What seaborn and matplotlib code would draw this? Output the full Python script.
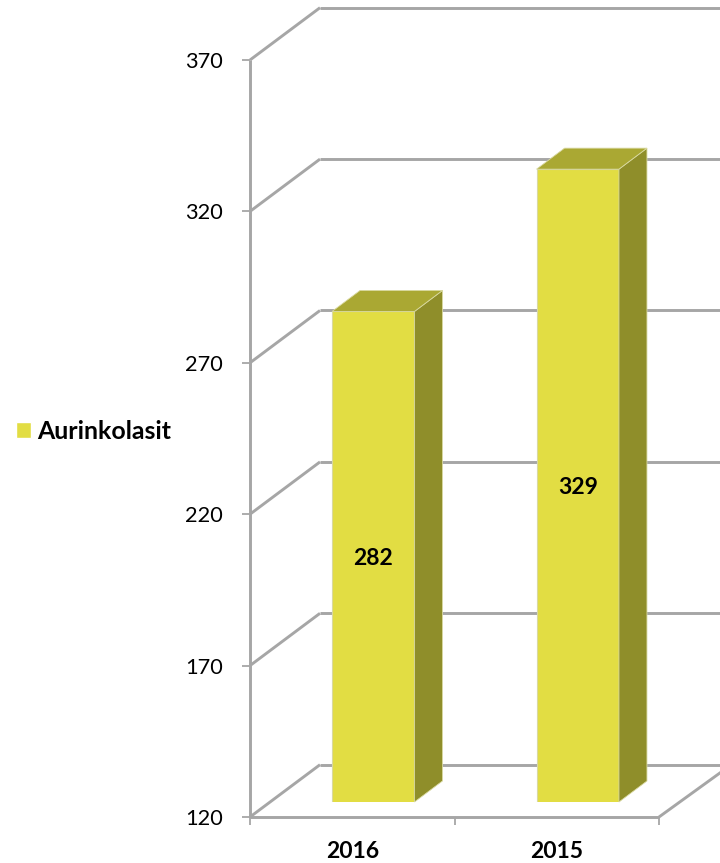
import matplotlib
matplotlib.use("Agg")
import matplotlib.pyplot as plt
from matplotlib.patches import Polygon, Patch
import pandas as pd
import seaborn as sns

years = ["2016", "2015"]
values = [282, 329]
series_name = "Aurinkolasit"
y_ticks = [120, 170, 220, 270, 320, 370]

W, H = 720, 863
FRONT = "#e2dd43"
SIDE = "#8f8e2a"
TOP = "#aaa833"
EDGE = "#d9d9a0"
LINE = "#a6a6a6"

sns.set_theme(style="white")
plt.rcParams["font.family"] = ["Lato", "DejaVu Sans"]


def box(x0, y_top, x1, y_bottom):
    # pikseli -> koordinate figure (lijevo, dolje, sirina, visina)
    return [x0 / W, 1 - y_bottom / H, (x1 - x0) / W, (y_bottom - y_top) / H]


fig = plt.figure(figsize=(W / 100, H / 100), dpi=100)

# ============================================================
# prednja ravnina: osi, ticks, zidovi
# ============================================================
ax = fig.add_axes(box(250, 60, 720, 817))
cat_w = 204.5
px_per_val = (817 - 60) / (y_ticks[-1] - y_ticks[0])
ax.set_xlim(-0.5, -0.5 + 470 / cat_w)
ax.set_ylim(y_ticks[0], y_ticks[-1])
ax.patch.set_alpha(0)
for s in ax.spines.values():
    s.set_visible(False)

wall_dx = 70 / cat_w
wall_dy = 52.3 / px_per_val
xmin, xmax = ax.get_xlim()
line_kw = dict(color=LINE, lw=2.1, clip_on=False, solid_capstyle="butt")

ax.plot([xmin, xmin], [y_ticks[0], y_ticks[-1]], **line_kw)
ax.plot([xmin, xmin + 2 * 1.0], [y_ticks[0], y_ticks[0]], **line_kw)
for t in y_ticks:
    ax.plot([xmin, xmin + wall_dx], [t, t + wall_dy], **line_kw)
    ax.plot([xmin + wall_dx, xmax + 0.01], [t + wall_dy, t + wall_dy], **line_kw)
# desna strana poda
ax.plot([xmin + 2, xmax + 0.01], [y_ticks[0], y_ticks[0] + wall_dy * (61 / 70)], **line_kw)

ax.set_yticks(y_ticks)
ax.set_yticklabels([str(t) for t in y_ticks], fontsize=15.7, color="black")
ax.tick_params(axis="y", length=5.5, width=1.3, color=LINE, left=True, pad=14)
ax.set_xticks([0, 1])
ax.set_xticklabels(years, fontsize=16.5, fontweight="bold", color="black")
ax.tick_params(axis="x", which="major", length=0, pad=17)
ax.set_xticks([xmin, xmin + 1, xmin + 2], minor=True)
ax.tick_params(axis="x", which="minor", length=6, width=1.3, color=LINE, bottom=True)

# ============================================================
# stupci (os pomaknuta u dubinu)
# ============================================================
ax_bar = fig.add_axes(box(271, 45, 741, 802))
df = pd.DataFrame({"year": years, "value": values})
sns.barplot(data=df, x="year", y="value", color=FRONT, saturation=1,
            width=0.403, ax=ax_bar, edgecolor=EDGE, linewidth=0.8)
ax_bar.set_xlim(ax.get_xlim())
ax_bar.set_ylim(ax.get_ylim())
ax_bar.axis("off")

depth_x = 28 / cat_w
depth_y = 21 / px_per_val
for bar, v in zip(ax_bar.patches, values):
    x0 = bar.get_x()
    x1 = x0 + bar.get_width()
    base = y_ticks[0]
    ax_bar.add_patch(Polygon(
        [(x1, base), (x1 + depth_x, base + depth_y), (x1 + depth_x, v + depth_y), (x1, v)],
        facecolor=SIDE, edgecolor=EDGE, lw=0.6, clip_on=False, zorder=3))
    ax_bar.add_patch(Polygon(
        [(x0, v), (x0 + depth_x, v + depth_y), (x1 + depth_x, v + depth_y), (x1, v)],
        facecolor=TOP, edgecolor=EDGE, lw=0.6, clip_on=False, zorder=3))
    ax_bar.text((x0 + x1) / 2, (v + base) / 2 - 2 / px_per_val, str(v), ha="center", va="center",
                fontsize=16.5, fontweight="bold", color="black", zorder=4)

# ============================================================
# legenda
# ============================================================
fig.legend(handles=[Patch(facecolor=FRONT, label=series_name)],
           loc="center left", bbox_to_anchor=(16 / W, 1 - 431 / H),
           frameon=False, borderpad=0, borderaxespad=0,
           handlelength=0.6, handleheight=0.6, handletextpad=0.24,
           labelcolor="black", prop={"size": 17.9, "weight": "bold"})

fig.savefig("out.png", dpi=100)
